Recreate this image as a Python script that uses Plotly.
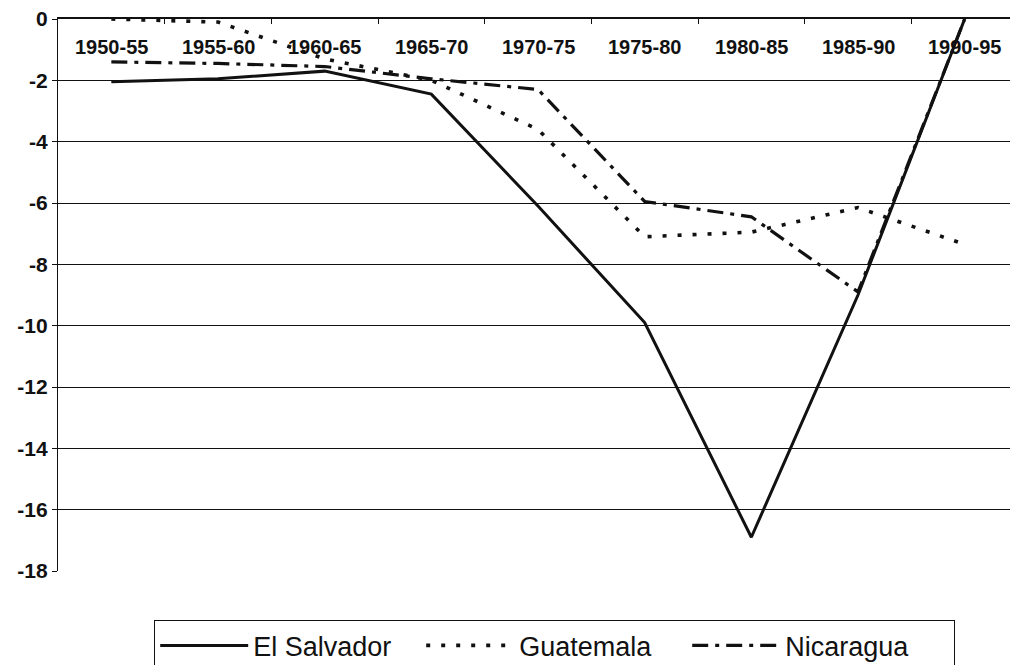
import plotly.graph_objects as go

periods = ["1950-55", "1955-60", "1960-65", "1965-70", "1970-75",
           "1975-80", "1980-85", "1985-90", "1990-95"]
el_salvador = [-2.05, -1.95, -1.7, -2.45, -6.1, -9.9, -16.9, -9.0, 0.0]
guatemala = [0.0, -0.1, -1.3, -2.0, -3.6, -7.1, -6.95, -6.15, -7.35]
nicaragua = [-1.4, -1.45, -1.55, -1.95, -2.3, -5.95, -6.45, -8.9, 0.0]
y_ticks = [0, -2, -4, -6, -8, -10, -12, -14, -16, -18]
label_level = -0.92  # vertical position of the period labels (data units)

FONT = "Liberation Sans, Arial, sans-serif"
INK = "#111111"

fig = go.Figure()
fig.add_trace(go.Scatter(x=periods, y=el_salvador, name="El Salvador", mode="lines",
                         line=dict(color=INK, width=3, dash="solid")))
fig.add_trace(go.Scatter(x=periods, y=guatemala, name="Guatemala", mode="lines",
                         line=dict(color=INK, width=3.6, dash="4px,11px")))
fig.add_trace(go.Scatter(x=periods, y=nicaragua, name="Nicaragua", mode="lines",
                         line=dict(color=INK, width=3.2, dash="16px,7px,4px,7px")))

for p in periods:
    fig.add_annotation(x=p, y=label_level, xref="x", yref="y", text=p,
                       showarrow=False, xanchor="center", yanchor="middle",
                       font=dict(family=FONT, size=20, color=INK, weight="bold"))

fig.update_layout(
    width=1010, height=657,
    margin=dict(l=50, r=0, t=11, b=94, autoexpand=False),
    plot_bgcolor="white", paper_bgcolor="white",
    font=dict(family=FONT, color=INK),
    showlegend=True,
    legend=dict(orientation="h", x=(154 - 58) / 960, xanchor="left",
                y=-0.089, yanchor="top",
                bordercolor=INK, borderwidth=1.2,
                font=dict(family=FONT, size=27, color=INK),
                itemwidth=88, entrywidth=163, tracegroupgap=0),
    xaxis=dict(type="category", side="top", range=[-0.5, 8.5],
               showticklabels=False, automargin=False,
               showline=True, linecolor=INK, linewidth=1.5,
               ticks="inside", ticklen=5, tickcolor=INK, tickson="boundaries",
               showgrid=False, zeroline=False),
    yaxis=dict(range=[-18, 0], tickvals=y_ticks, ticktext=[str(v) for v in y_ticks],
               automargin=False, ticklabeloverflow="allow",
               showline=True, linecolor=INK, linewidth=1.2,
               ticks="outside", ticklen=5, tickcolor=INK,
               showgrid=True, gridcolor=INK, gridwidth=1.4,
               zeroline=False,
               tickfont=dict(family=FONT, size=21, color=INK, weight="bold")),
)

fig.write_html("out.html")
